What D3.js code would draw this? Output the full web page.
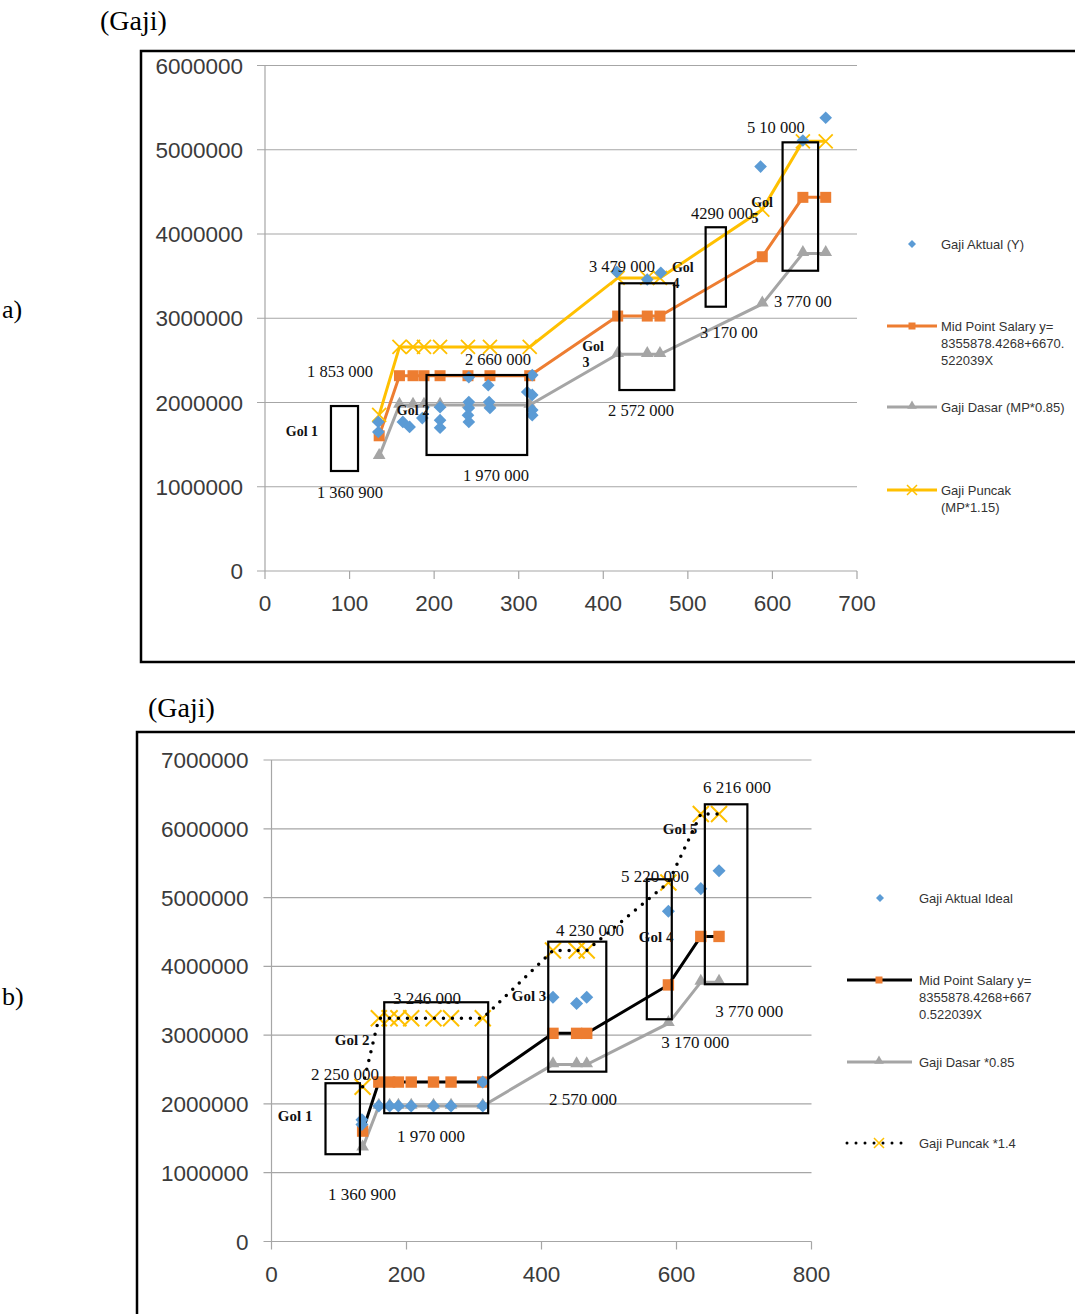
<!DOCTYPE html>
<html><head><meta charset="utf-8">
<script src="https://cdn.jsdelivr.net/npm/d3@7"></script>
<style>body{margin:0;background:#fff} svg{display:block}</style>
</head><body>
<svg id="c" width="1075" height="1314"></svg>
<script>
// ---------- DATA ----------
const evalPoints = [135, 159, 175, 188, 207, 240, 266, 313, 417, 452, 467, 588, 636, 663];
const midPoint   = [1605000, 2318000, 2318000, 2318000, 2318000, 2318000, 2318000, 2318000, 3026000, 3026000, 3026000, 3730000, 4435000, 4435000];
const gajiDasar  = [1360900, 1970000, 1970000, 1970000, 1970000, 1970000, 1970000, 1970000, 2572000, 2572000, 2572000, 3170000, 3770000, 3770000];
const puncakA    = [1853000, 2660000, 2660000, 2660000, 2660000, 2660000, 2660000, 2660000, 3479000, 3479000, 3479000, 4290000, 5100000, 5100000];
const puncakB    = [2250000, 3246000, 3246000, 3246000, 3246000, 3246000, 3246000, 3246000, 4230000, 4230000, 4230000, 5220000, 6216000, 6216000];

const aktualX = [134, 134, 163, 171, 186, 207, 207, 207, 241, 241, 241, 240, 241, 264, 265, 266, 316, 310, 316, 316, 316, 416, 452, 468, 586, 636, 663];
const aktualY = [1770000, 1650000, 1770000, 1710000, 1815000, 1945000, 1790000, 1700000, 2300000, 2005000, 1935000, 1850000, 1770000, 2205000, 2005000, 1935000, 2325000, 2125000, 2090000, 1910000, 1850000, 3550000, 3460000, 3540000, 4800000, 5110000, 5380000];

const idealX = [134, 134, 159, 175, 188, 207, 240, 266, 313, 313, 417, 452, 467, 588, 636, 663];
const idealY = [1770000, 1700000, 1970000, 1970000, 1970000, 1970000, 1970000, 1970000, 1970000, 2318000, 3550000, 3460000, 3550000, 4800000, 5130000, 5390000];

const xTicksA = [0, 100, 200, 300, 400, 500, 600, 700];
const yTicksA = [0, 1000000, 2000000, 3000000, 4000000, 5000000, 6000000];
const xTicksB = [0, 200, 400, 600, 800];
const yTicksB = [0, 1000000, 2000000, 3000000, 4000000, 5000000, 6000000, 7000000];

const legendA = ["Gaji Aktual (Y)", ["Mid Point Salary y=", "8355878.4268+6670.", "522039X"], "Gaji Dasar (MP*0.85)", ["Gaji Puncak", "(MP*1.15)"]];
const legendB = ["Gaji Aktual Ideal", ["Mid Point Salary y=", "8355878.4268+667", "0.522039X"], "Gaji Dasar *0.85", "Gaji Puncak *1.4"];

// annotation boxes [x0, x1, yTop, yBottom] in data units
const boxesA = [[78,110,1958000,1187000],[191,310,2326000,1377000],[419,484,3415000,2148000],[521,545,4080000,3137000],[612,654,5088000,3564000]];
const boxesB = [[80,131,2301000,1269000],[167,321,3478000,1865000],[410,496,4359000,2469000],[556,593,5266000,3231000],[642,705,6356000,3740000]];

// annotation labels [text, x, y, bold]
const labelsA = [
  ["1 853 000", 88.7, 2374000, 0], ["Gol 1", 43.7, 1662000, 1], ["1 360 900", 100.5, 938000, 0],
  ["Gol 2", 175, 1911000, 1], ["2 660 000", 275.5, 2516000, 0], ["1 970 000", 273, 1139000, 0],
  ["Gol", 388, 2671000, 1], ["3", 379.5, 2480000, 1], ["2 572 000", 444.6, 1911000, 0],
  ["3 479 000", 422, 3620000, 0], ["Gol", 494, 3608000, 1], ["4", 486, 3418000, 1],
  ["3 170 00", 548.6, 2837000, 0], ["4290 000", 540.4, 4249000, 0],
  ["Gol", 587.7, 4380000, 1], ["5", 579.4, 4190000, 1],
  ["5 10 000", 604, 5270000, 0], ["3 770 00", 636, 3205000, 0]
];
const labelsB = [
  ["2 250 000", 109, 2436000, 0], ["Gol 2", 119.4, 2930000, 1], ["3 246 000", 230.5, 3541000, 0],
  ["Gol 1", 35, 1826000, 1], ["1 970 000", 236.4, 1535000, 0], ["1 360 900", 134.2, 692000, 0],
  ["Gol 3", 381.6, 3570000, 1], ["4 230 000", 472, 4529000, 0], ["2 570 000", 461.6, 2073000, 0],
  ["Gol 4", 569.8, 4430000, 1], ["5 220 000", 568.3, 5314000, 0], ["3 170 000", 627.6, 2901000, 0],
  ["Gol 5", 605.3, 5997000, 1], ["6 216 000", 689.8, 6607000, 0], ["3 770 000", 707.6, 3352000, 0]
];

// ---------- STYLE ----------
const C = {blue:"#5B9BD5", orange:"#ED7D31", gray:"#A5A5A5", yellow:"#FFC000", grid:"#A6A6A6", text:"#3b3b3b"};
const svg = d3.select("#c");
const serif = "'Liberation Serif','Times New Roman',serif";
const sans = "'Liberation Sans',Arial,sans-serif";

// outer texts
svg.append("text").attr("x",100).attr("y",30).attr("font-family",serif).attr("font-size",28).text("(Gaji)");
svg.append("text").attr("x",2).attr("y",318).attr("font-family",serif).attr("font-size",26).text("a)");
svg.append("text").attr("x",148).attr("y",717).attr("font-family",serif).attr("font-size",28).text("(Gaji)");
svg.append("text").attr("x",2).attr("y",1005).attr("font-family",serif).attr("font-size",26).text("b)");

// frames
svg.append("rect").attr("x",141).attr("y",51).attr("width",1000).attr("height",611).attr("fill","none").attr("stroke","#000").attr("stroke-width",2.5);
svg.append("rect").attr("x",137).attr("y",732).attr("width",1000).attr("height",700).attr("fill","none").attr("stroke","#000").attr("stroke-width",2.5);

function sym(g, type, x, y, size, fill, rot) {
  g.append("path").attr("d", d3.symbol().type(type).size(size)())
    .attr("transform", `translate(${x},${y})` + (rot ? ` rotate(${rot})` : ""))
    .attr("fill", fill);
}
function xMark(g, x, y, r, col, w) {
  g.append("path").attr("d", `M${x-r},${y-r}L${x+r},${y+r}M${x-r},${y+r}L${x+r},${y-r}`)
    .attr("stroke", col).attr("stroke-width", w).attr("fill","none");
}

function drawAxes(g, x, y, xTicks, yTicks, fs, lx) {
  const [x0, x1] = x.range();
  const [yb, yt] = y.range();
  g.selectAll(".gl").data(yTicks).join("line")
    .attr("x1", x0 - 8).attr("x2", x1).attr("y1", d => y(d)).attr("y2", d => y(d))
    .attr("stroke", C.grid).attr("stroke-width", 1.2);
  g.append("line").attr("x1", x0).attr("x2", x0).attr("y1", yt).attr("y2", yb).attr("stroke", C.grid).attr("stroke-width",1.2);
  g.selectAll(".xt").data(xTicks).join("line")
    .attr("x1", d => x(d)).attr("x2", d => x(d)).attr("y1", yb).attr("y2", yb + 8)
    .attr("stroke", C.grid).attr("stroke-width", 1.2);
  g.selectAll(".yl").data(yTicks).join("text")
    .attr("x", x0 - lx).attr("y", d => y(d)).attr("dy","0.36em").attr("text-anchor","end")
    .attr("font-family", sans).attr("font-size", fs).attr("fill", C.text).text(d => d);
  g.selectAll(".xl").data(xTicks).join("text")
    .attr("x", d => x(d)).attr("y", yb + 32).attr("dy","0.36em").attr("text-anchor","middle")
    .attr("font-family", sans).attr("font-size", fs).attr("fill", C.text).text(d => d);
}

function drawBoxesLabels(g, x, y, boxes, labels, fs, bfs) {
  boxes.forEach(b => {
    g.append("rect").attr("x", x(b[0])).attr("y", y(b[2]))
      .attr("width", x(b[1]) - x(b[0])).attr("height", y(b[3]) - y(b[2]))
      .attr("fill","none").attr("stroke","#000").attr("stroke-width",2.2);
  });
  labels.forEach(l => {
    g.append("text").attr("x", x(l[1])).attr("y", y(l[2])).attr("dy","0.35em")
      .attr("text-anchor","middle").attr("font-family", serif)
      .attr("font-size", l[3] ? bfs : fs).attr("font-weight", l[3] ? "bold" : "normal")
      .attr("fill", "#111").text(l[0]);
  });
}

function legendText(g, x, y, t) {
  const lines = Array.isArray(t) ? t : [t];
  const tx = g.append("text").attr("font-family", sans).attr("font-size", 13).attr("fill","#333");
  lines.forEach((s, i) => tx.append("tspan").attr("x", x).attr("y", y + i * 17).attr("dy","0.35em").text(s));
}

// ---------- CHART A ----------
{
  const g = svg.append("g");
  const x = d3.scaleLinear().domain([0,700]).range([265,857]);
  const y = d3.scaleLinear().domain([0,6000000]).range([571,65.5]);
  drawAxes(g, x, y, xTicksA, yTicksA, 22.5, 22);
  const line = vals => d3.line().x((d,i) => x(evalPoints[i])).y(d => y(d))(vals);
  g.append("path").attr("d", line(gajiDasar)).attr("fill","none").attr("stroke",C.gray).attr("stroke-width",3);
  gajiDasar.forEach((v,i) => sym(g, d3.symbolTriangle, x(evalPoints[i]), y(v)-1, 70, C.gray));
  g.append("path").attr("d", line(midPoint)).attr("fill","none").attr("stroke",C.orange).attr("stroke-width",3);
  midPoint.forEach((v,i) => sym(g, d3.symbolSquare, x(evalPoints[i]), y(v), 121, C.orange));
  g.append("path").attr("d", line(puncakA)).attr("fill","none").attr("stroke",C.yellow).attr("stroke-width",3);
  puncakA.forEach((v,i) => xMark(g, x(evalPoints[i]), y(v), 7, C.yellow, 1.8));
  aktualX.forEach((v,i) => sym(g, d3.symbolSquare, x(v), y(aktualY[i]), 80, C.blue, 45));
  drawBoxesLabels(g, x, y, boxesA, labelsA, 16.5, 14);
  // legend
  sym(g, d3.symbolSquare, 912, 244, 32, C.blue, 45);
  legendText(g, 941, 244, legendA[0]);
  g.append("line").attr("x1",887).attr("x2",937).attr("y1",326).attr("y2",326).attr("stroke",C.orange).attr("stroke-width",3);
  sym(g, d3.symbolSquare, 912, 326, 49, C.orange);
  legendText(g, 941, 326, legendA[1]);
  g.append("line").attr("x1",887).attr("x2",937).attr("y1",407).attr("y2",407).attr("stroke",C.gray).attr("stroke-width",3);
  sym(g, d3.symbolTriangle, 912, 406, 40, C.gray);
  legendText(g, 941, 407, legendA[2]);
  g.append("line").attr("x1",887).attr("x2",937).attr("y1",490).attr("y2",490).attr("stroke",C.yellow).attr("stroke-width",3);
  xMark(g, 912, 490, 5, C.yellow, 1.5);
  legendText(g, 941, 490, legendA[3]);
}

// ---------- CHART B ----------
{
  const g = svg.append("g");
  const x = d3.scaleLinear().domain([0,800]).range([271.5,811.5]);
  const y = d3.scaleLinear().domain([0,7000000]).range([1241.5,760]);
  drawAxes(g, x, y, xTicksB, yTicksB, 22.5, 23);
  const line = vals => d3.line().x((d,i) => x(evalPoints[i])).y(d => y(d))(vals);
  g.append("path").attr("d", line(gajiDasar)).attr("fill","none").attr("stroke",C.gray).attr("stroke-width",3);
  gajiDasar.forEach((v,i) => sym(g, d3.symbolTriangle, x(evalPoints[i]), y(v)-1, 70, C.gray));
  g.append("path").attr("d", line(midPoint)).attr("fill","none").attr("stroke","#000").attr("stroke-width",3);
  midPoint.forEach((v,i) => sym(g, d3.symbolSquare, x(evalPoints[i]), y(v), 130, C.orange));
  puncakB.forEach((v,i) => xMark(g, x(evalPoints[i]), y(v), 8, C.yellow, 2));
  g.append("path").attr("d", line(puncakB)).attr("fill","none").attr("stroke","#000").attr("stroke-width",3.5)
    .attr("stroke-linecap","round").attr("stroke-dasharray","0 9");
  idealX.forEach((v,i) => sym(g, d3.symbolSquare, x(v), y(idealY[i]), 85, C.blue, 45));
  drawBoxesLabels(g, x, y, boxesB, labelsB, 17, 15);
  // legend
  sym(g, d3.symbolSquare, 880, 898, 32, C.blue, 45);
  legendText(g, 919, 898, legendB[0]);
  g.append("line").attr("x1",847).attr("x2",912).attr("y1",980).attr("y2",980).attr("stroke","#000").attr("stroke-width",3);
  sym(g, d3.symbolSquare, 879, 980, 49, C.orange);
  legendText(g, 919, 980, legendB[1]);
  g.append("line").attr("x1",847).attr("x2",912).attr("y1",1062).attr("y2",1062).attr("stroke",C.gray).attr("stroke-width",3);
  sym(g, d3.symbolTriangle, 879, 1061, 40, C.gray);
  legendText(g, 919, 1062, legendB[2]);
  g.append("line").attr("x1",847).attr("x2",910).attr("y1",1143).attr("y2",1143).attr("stroke","#000").attr("stroke-width",3)
    .attr("stroke-linecap","round").attr("stroke-dasharray","0 9");
  xMark(g, 879, 1143, 5, C.yellow, 1.5);
  legendText(g, 919, 1143, legendB[3]);
}
</script>
</body></html>
